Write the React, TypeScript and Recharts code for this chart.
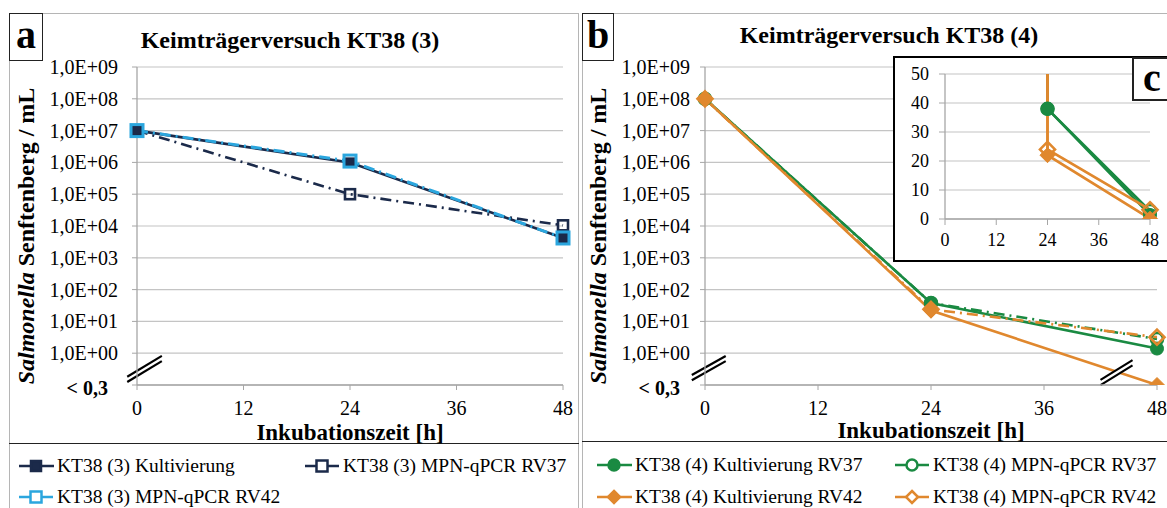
import React from 'react';
import { LineChart, Line, XAxis, YAxis, CartesianGrid, ReferenceLine } from 'recharts';

const SERIF = 'Tinos, "Liberation Serif", "Noto Serif", "DejaVu Serif", FreeSerif, "Times New Roman", Times, serif';
const NAVY = '#1B2A4A';
const LIGHT = '#2BA6DE';
const GREEN = '#1A8A42';
const ORANGE = '#E0882E';
const GRID = '#C4C4C4';
const AXIS = '#A6A6A6';

// time points and axis ticks
const HOURS = [0, 24, 48];
const X_TICKS = [0, 12, 24, 36, 48];
const LOG_TICKS = [0.1, 1, 10, 1e2, 1e3, 1e4, 1e5, 1e6, 1e7, 1e8, 1e9];
const INSET_TICKS = [0, 10, 20, 30, 40, 50];
const BELOW_LIMIT = 0.1; // drawn on the "< 0,3" line

// KT38 (3)
const KT3_KULT = [1e7, 1e6, 4.2e3];
const KT3_MPN37 = [1e7, 1e5, 1.05e4];
const KT3_MPN42 = [1e7, 1.1e6, 4.2e3];

// KT38 (4)
const KT4_KULT37 = [1e8, 38, 1.4];
const KT4_MPN37 = [1e8, 38, 2.8];
const KT4_KULT42 = [1e8, 22, BELOW_LIMIT];
const KT4_MPN42 = [1e8, 24, 3.2];

const kt3Data = HOURS.map((h, i) => ({ h, kult: KT3_KULT[i], mpn37: KT3_MPN37[i], mpn42: KT3_MPN42[i] }));
const kt4Data = HOURS.map((h, i) => ({
  h, kult37: KT4_KULT37[i], mpn37: KT4_MPN37[i], kult42: KT4_KULT42[i], mpn42: KT4_MPN42[i],
}));

const fmtLog = (v: number) =>
  v < 0.5 ? '< 0,3' : `1,0E+${String(Math.round(Math.log10(v))).padStart(2, '0')}`;

type Shape = 'square' | 'circle' | 'diamond';

function Marker({ shape, cx, cy, size, color, fill, sw }: {
  shape: Shape; cx: number; cy: number; size: number; color: string; fill: string; sw: number;
}) {
  const h = size / 2;
  if (shape === 'square')
    return <rect x={cx - h} y={cy - h} width={size} height={size} fill={fill} stroke={color} strokeWidth={sw} />;
  if (shape === 'circle') return <circle cx={cx} cy={cy} r={h} fill={fill} stroke={color} strokeWidth={sw} />;
  return (
    <polygon points={`${cx},${cy - h} ${cx + h},${cy} ${cx},${cy + h} ${cx - h},${cy}`}
      fill={fill} stroke={color} strokeWidth={sw} strokeLinejoin="miter" />
  );
}

const dotFn = (shape: Shape, color: string, fill: string, size: number, sw: number) => (p: any) => (
  <Marker key={`${shape}-${color}-${fill}-${p.index}`} shape={shape} cx={p.cx} cy={p.cy}
    size={size} color={color} fill={fill} sw={sw} />
);

const LogTick = (p: any) => {
  const low = p.payload.value < 0.5;
  return (
    <text x={low ? p.x - 10 : p.x} y={low ? p.y + 3 : p.y} dy="0.35em" textAnchor="end"
      fontFamily={SERIF} fontSize={20} fontWeight={low ? 700 : 400} fill="#000">
      {fmtLog(p.payload.value)}
    </text>
  );
};

// axis break "//"
const BreakMark = (p: any) => {
  const { x1, y1, x2, y2 } = p;
  return (
    <g>
      <line x1={x1} y1={y1} x2={x2} y2={y2} stroke="#fff" strokeWidth={5} />
      <line x1={x1} y1={y1 - 2.6} x2={x2} y2={y2 - 2.6} stroke="#000" strokeWidth={2.2} />
      <line x1={x1} y1={y1 + 2.6} x2={x2} y2={y2 + 2.6} stroke="#000" strokeWidth={2.2} />
    </g>
  );
};

const DASH = '11 5 2 5';

function LegendItem({ x, y, color, dash, shape, fill, size, label }: {
  x: number; y: number; color: string; dash?: string; shape: Shape; fill: string; size: number; label: string;
}) {
  return (
    <div style={{ position: 'absolute', left: x, top: y - 12, height: 24, display: 'flex', alignItems: 'center', whiteSpace: 'nowrap' }}>
      <svg width={37} height={20} style={{ marginRight: 2 }}>
        <line x1={1} y1={10} x2={36} y2={10} stroke={color} strokeWidth={2.5} strokeDasharray={dash} />
        <Marker shape={shape} cx={18} cy={10} size={size} color={color} fill={fill} sw={2.5} />
      </svg>
      <span style={{ fontSize: 19.5 }}>{label}</span>
    </div>
  );
}

const abs = (left: number, top: number): React.CSSProperties => ({ position: 'absolute', left, top });

const boxLabel = (left: number, top: number, w: number, h: number, t: string, bw = 1.5) => (
  <div style={{
    ...abs(left, top), width: w, height: h, boxSizing: 'border-box', border: `${bw}px solid #222`, background: '#fff',
    fontWeight: 700, fontSize: 40, lineHeight: `${h - 6}px`, textAlign: 'center',
  }}>{t}</div>
);

const yTitle = (cx: number) => (
  <div style={{
    ...abs(cx, 236), transform: 'translate(-50%, -50%) rotate(-90deg)', whiteSpace: 'nowrap',
    fontWeight: 700, fontSize: 24, lineHeight: 1,
  }}><i>Salmonella</i> Senftenberg / mL</div>
);

export default function App() {
  const xAxisCommon = {
    dataKey: 'h', type: 'number' as const, domain: [0, 48], ticks: X_TICKS, interval: 0 as const,
    tickSize: 5, axisLine: { stroke: AXIS, strokeWidth: 1.3 }, tickLine: { stroke: AXIS },
  };
  return (
    <div style={{ position: 'absolute', left: 0, top: 0, width: 1167, height: 508, overflow: 'hidden', background: '#fff', fontFamily: SERIF, color: '#000' }}>
      {/* panel frames */}
      <div style={{ ...abs(9, 13), width: 570, height: 520, boxSizing: 'border-box', border: '1.5px solid #B5B5B5' }} />
      <div style={{ ...abs(582, 13), width: 600, height: 520, boxSizing: 'border-box', border: '1.5px solid #B5B5B5' }} />
      <div style={{ ...abs(9, 443), width: 570, borderTop: '1.5px solid #222' }} />
      <div style={{ ...abs(582, 441), width: 600, borderTop: '1.5px solid #222' }} />

      {/* panel a */}
      <div style={abs(9, 13)}>
        <LineChart width={570} height={431} data={kt3Data} margin={{ top: 54, right: 16, left: 0, bottom: 0 }}>
          <CartesianGrid vertical={false} stroke={GRID} strokeWidth={1.2} />
          <XAxis {...xAxisCommon} height={59} tickMargin={11} tick={{ fill: '#000', fontSize: 20, fontFamily: SERIF }} />
          <YAxis type="number" scale="log" domain={[0.1, 1e9]} allowDataOverflow ticks={LOG_TICKS} interval={0}
            width={128} tickSize={5} tickMargin={14} axisLine={{ stroke: AXIS, strokeWidth: 1.3 }}
            tickLine={{ stroke: AXIS }} tick={LogTick} />
          <Line dataKey="kult" stroke={NAVY} strokeWidth={2.6} dot={dotFn('square', NAVY, NAVY, 9, 1)} activeDot={false} isAnimationActive={false} />
          <Line dataKey="mpn37" stroke={NAVY} strokeWidth={2.6} strokeDasharray={DASH} dot={dotFn('square', NAVY, 'none', 10, 2.6)} activeDot={false} isAnimationActive={false} />
          <Line dataKey="mpn42" stroke={LIGHT} strokeWidth={3} strokeDasharray={DASH} dot={dotFn('square', LIGHT, 'none', 12, 3)} activeDot={false} isAnimationActive={false} />
          <ReferenceLine segment={[{ x: -1.1, y: 0.15 }, { x: 2.8, y: 0.68 }]} ifOverflow="visible" shape={BreakMark} />
        </LineChart>
      </div>
      {boxLabel(9, 13, 34, 48, 'a')}
      <div style={{ ...abs(137, 28), width: 306, textAlign: 'center', fontWeight: 700, fontSize: 24, lineHeight: '24px', whiteSpace: 'nowrap' }}>
        Keimträgerversuch KT38 (3)
      </div>
      {yTitle(26)}
      <div style={{ ...abs(137, 421), width: 426, textAlign: 'center', fontWeight: 700, fontSize: 23, lineHeight: '24px' }}>
        Inkubationszeit [h]
      </div>
      <LegendItem x={18} y={466} color={NAVY} shape="square" fill={NAVY} size={10} label="KT38 (3) Kultivierung" />
      <LegendItem x={304} y={466} color={NAVY} dash={DASH} shape="square" fill="#fff" size={11} label="KT38 (3) MPN-qPCR RV37" />
      <LegendItem x={18} y={497} color={LIGHT} dash={DASH} shape="square" fill="#fff" size={11} label="KT38 (3) MPN-qPCR RV42" />

      {/* panel b */}
      <div style={abs(582, 13)}>
        <LineChart width={585} height={428} data={kt4Data} margin={{ top: 54, right: 10, left: 0, bottom: 0 }}>
          <CartesianGrid vertical={false} stroke={GRID} strokeWidth={1.2} />
          <XAxis {...xAxisCommon} height={56} tickMargin={11} tick={{ fill: '#000', fontSize: 20, fontFamily: SERIF }} />
          <YAxis type="number" scale="log" domain={[0.1, 1e9]} allowDataOverflow ticks={LOG_TICKS} interval={0}
            width={123} tickSize={5} tickMargin={10} axisLine={{ stroke: AXIS, strokeWidth: 1.3 }}
            tickLine={{ stroke: AXIS }} tick={LogTick} />
          <Line dataKey="kult37" stroke={GREEN} strokeWidth={2.6} dot={dotFn('circle', GREEN, GREEN, 13, 1)} activeDot={false} isAnimationActive={false} />
          <Line dataKey="mpn37" stroke={GREEN} strokeWidth={2.6} strokeDasharray={DASH} dot={dotFn('circle', GREEN, 'none', 12, 2.6)} activeDot={false} isAnimationActive={false} />
          <Line dataKey="kult42" stroke={ORANGE} strokeWidth={2.6} dot={dotFn('diamond', ORANGE, ORANGE, 15, 1)} activeDot={false} isAnimationActive={false} />
          <Line dataKey="mpn42" stroke={ORANGE} strokeWidth={2.6} strokeDasharray={DASH} dot={dotFn('diamond', ORANGE, 'none', 15, 2.6)} activeDot={false} isAnimationActive={false} />
          <ReferenceLine segment={[{ x: -1.4, y: 0.17 }, { x: 2.2, y: 0.68 }]} ifOverflow="visible" shape={BreakMark} />
          <ReferenceLine segment={[{ x: 42.0, y: 0.12 }, { x: 45.4, y: 0.5 }]} ifOverflow="visible" shape={BreakMark} />
        </LineChart>
      </div>
      {boxLabel(582, 13, 32, 48, 'b')}
      <div style={{ ...abs(736, 23), width: 306, textAlign: 'center', fontWeight: 700, fontSize: 24, lineHeight: '24px', whiteSpace: 'nowrap' }}>
        Keimträgerversuch KT38 (4)
      </div>
      {yTitle(598)}
      <div style={{ ...abs(705, 419), width: 452, textAlign: 'center', fontWeight: 700, fontSize: 23, lineHeight: '24px' }}>
        Inkubationszeit [h]
      </div>
      <LegendItem x={596} y={465} color={GREEN} shape="circle" fill={GREEN} size={11} label="KT38 (4) Kultivierung RV37" />
      <LegendItem x={894} y={465} color={GREEN} dash={DASH} shape="circle" fill="#fff" size={11} label="KT38 (4) MPN-qPCR RV37" />
      <LegendItem x={596} y={497} color={ORANGE} shape="diamond" fill={ORANGE} size={12} label="KT38 (4) Kultivierung RV42" />
      <LegendItem x={894} y={497} color={ORANGE} dash={DASH} shape="diamond" fill="#fff" size={12} label="KT38 (4) MPN-qPCR RV42" />

      {/* inset c */}
      <div style={{ ...abs(893, 56), width: 290, height: 206, boxSizing: 'border-box', border: '2.5px solid #000', background: '#fff' }}>
        <LineChart width={272} height={201} data={kt4Data} margin={{ top: 16, right: 17, left: 0, bottom: 0 }}>
          <CartesianGrid vertical={false} stroke={GRID} strokeWidth={1.2} />
          <XAxis {...xAxisCommon} height={40} tickSize={6} tickMargin={8} tick={{ fill: '#000', fontSize: 18, fontFamily: SERIF }} />
          <YAxis type="number" domain={[0, 50]} allowDataOverflow ticks={INSET_TICKS} interval={0}
            width={50} tickSize={6} tickMargin={10} axisLine={{ stroke: AXIS, strokeWidth: 1.3 }}
            tickLine={{ stroke: AXIS }} tick={{ fill: '#000', fontSize: 18, fontFamily: SERIF }} />
          <Line dataKey="kult37" stroke={GREEN} strokeWidth={2.6} dot={dotFn('circle', GREEN, GREEN, 13, 1)} activeDot={false} isAnimationActive={false} />
          <Line dataKey="mpn37" stroke={GREEN} strokeWidth={2.6} strokeDasharray={DASH} dot={dotFn('circle', GREEN, 'none', 12, 2.6)} activeDot={false} isAnimationActive={false} />
          <Line dataKey="kult42" stroke={ORANGE} strokeWidth={2.6} dot={dotFn('diamond', ORANGE, ORANGE, 15, 1)} activeDot={false} isAnimationActive={false} />
          <Line dataKey="mpn42" stroke={ORANGE} strokeWidth={2.6} strokeDasharray={DASH} dot={dotFn('diamond', ORANGE, 'none', 15, 2.6)} activeDot={false} isAnimationActive={false} />
        </LineChart>
      </div>
      {boxLabel(1132, 57, 40, 44, 'c', 2)}
    </div>
  );
}
